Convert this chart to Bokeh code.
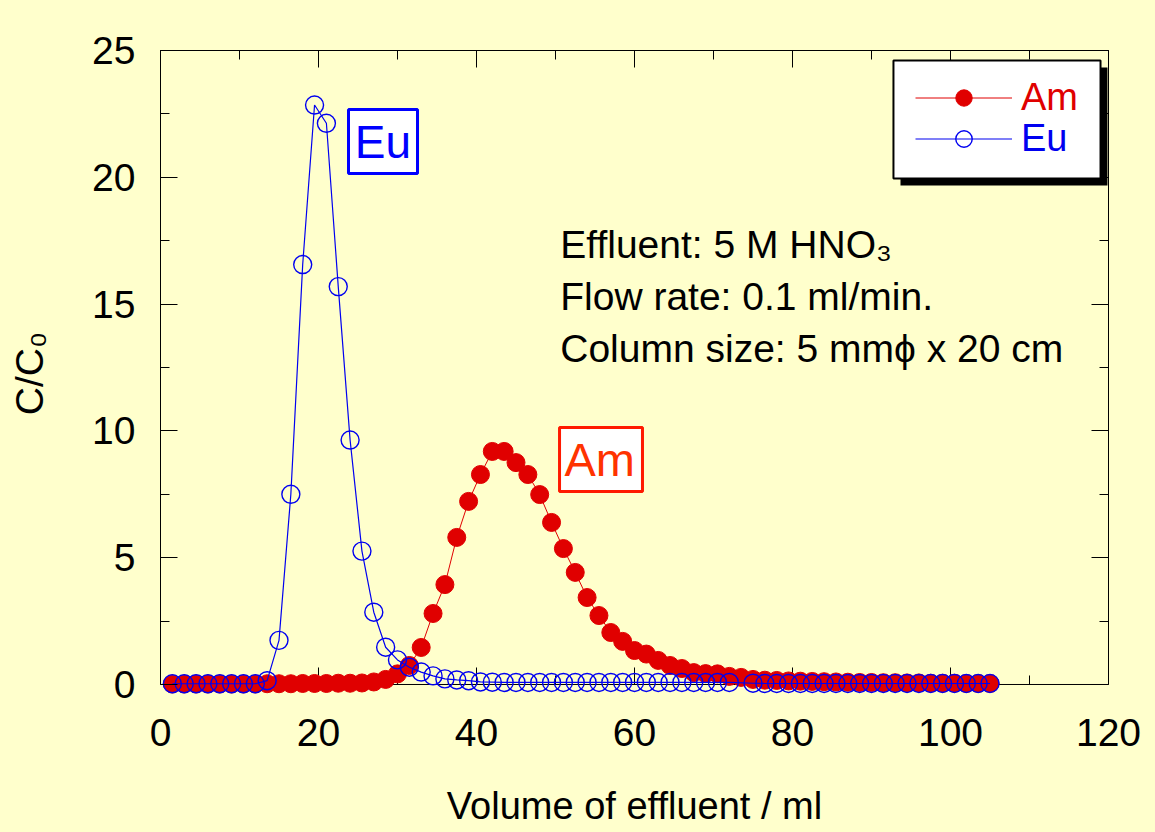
from bokeh.plotting import figure
from bokeh.models import (Range1d, LinearAxis, SingleIntervalTicker, BoxAnnotation,
                          Label, Legend, LegendItem, Span)
from bokeh.embed import file_html
from bokeh.resources import INLINE

# ---------------- data ----------------
volume_am = [1.5, 3.0, 4.5, 6.0, 7.5, 9.0, 10.5, 12.0, 13.5, 15.0,
             16.5, 18.0, 19.5, 21.0, 22.5, 24.0, 25.5, 27.0, 28.5, 30.0,
             31.5, 33.0, 34.5, 36.0, 37.5, 39.0, 40.5, 42.0, 43.5, 45.0,
             46.5, 48.0, 49.5, 51.0, 52.5, 54.0, 55.5, 57.0, 58.5, 60.0,
             61.5, 63.0, 64.5, 66.0, 67.5, 69.0, 70.5, 72.0, 73.5, 75.0,
             76.5, 78.0, 79.5, 81.0, 82.5, 84.0, 85.5, 87.0, 88.5, 90.0,
             91.5, 93.0, 94.5, 96.0, 97.5, 99.0, 100.5, 102.0, 103.5, 105.0]
cc0_am = [0.02, 0.02, 0.02, 0.02, 0.02, 0.02, 0.02, 0.02, 0.03, 0.03,
          0.03, 0.04, 0.04, 0.04, 0.05, 0.05, 0.06, 0.10, 0.20, 0.42,
          0.75, 1.46, 2.80, 3.94, 5.80, 7.22, 8.28, 9.19, 9.19, 8.75,
          8.28, 7.49, 6.39, 5.36, 4.42, 3.43, 2.72, 2.05, 1.70, 1.34,
          1.20, 0.95, 0.75, 0.63, 0.47, 0.43, 0.42, 0.32, 0.28, 0.20,
          0.17, 0.16, 0.14, 0.13, 0.12, 0.11, 0.10, 0.09, 0.08, 0.08,
          0.07, 0.07, 0.06, 0.06, 0.05, 0.05, 0.05, 0.04, 0.04, 0.04]

volume_eu = [1.5, 3.0, 4.5, 6.0, 7.5, 9.0, 10.5, 12.0, 13.5, 15.0,
             16.5, 18.0, 19.5, 21.0, 22.5, 24.0, 25.5, 27.0, 28.5, 30.0,
             31.5, 33.0, 34.5, 36.0, 37.5, 39.0, 40.5, 42.0, 43.5, 45.0,
             46.5, 48.0, 49.5, 51.0, 52.5, 54.0, 55.5, 57.0, 58.5, 60.0,
             61.5, 63.0, 64.5, 66.0, 67.5, 69.0, 70.5, 72.0, 75.0,
             76.5, 78.0, 79.5, 81.0, 82.5, 84.0, 85.5, 87.0, 88.5, 90.0,
             91.5, 93.0, 94.5, 96.0, 97.5, 99.0, 100.5, 102.0, 103.5, 105.0]
cc0_eu = [0.03, 0.03, 0.03, 0.03, 0.03, 0.03, 0.03, 0.03, 0.15, 1.74,
          7.50, 16.56, 22.85, 22.13, 15.69, 9.64, 5.26, 2.85, 1.47, 0.97,
          0.68, 0.49, 0.34, 0.22, 0.18, 0.15, 0.10, 0.09, 0.08, 0.08,
          0.08, 0.08, 0.08, 0.08, 0.08, 0.08, 0.08, 0.08, 0.08, 0.08,
          0.08, 0.08, 0.08, 0.08, 0.08, 0.08, 0.08, 0.08, 0.05,
          0.04, 0.04, 0.04, 0.04, 0.04, 0.04, 0.04, 0.04, 0.04, 0.04,
          0.04, 0.04, 0.04, 0.04, 0.04, 0.04, 0.04, 0.04, 0.04, 0.04]

x_major_ticks = [0, 20, 40, 60, 80, 100, 120]
x_minor_ticks = [10, 30, 50, 70, 90, 110]
x_label = "Volume of effluent / ml"
y_label = "C/C\u2080"
note_lines = ["Effluent: 5 M HNO\u2083", "Flow rate: 0.1 ml/min.",
              "Column size: 5 mm\u03d5 x 20 cm"]

# ---------------- style ----------------
BG = "#FFFFCC"
FONT = "Liberation Sans"
RED = "#E00000"
BLUE = "#0000F0"
Y_LOW = -0.4732          # a little room below zero so baseline markers are not clipped
FRAME_H = 646
PX_PER_Y = FRAME_H / (25 - Y_LOW)

p = figure(frame_width=948, frame_height=FRAME_H,
           x_range=Range1d(0, 120), y_range=Range1d(Y_LOW, 25),
           x_axis_location=None, y_axis_location=None,
           min_border_left=160, min_border_right=42,
           min_border_top=50, min_border_bottom=132,
           output_backend="svg", toolbar_location=None)
p.background_fill_color = BG
p.border_fill_color = BG
p.outline_line_color = None
p.xgrid.visible = False
p.ygrid.visible = False


def style_axis(ax, labels=True):
    ax.axis_line_color = "black"
    ax.axis_line_width = 1
    ax.major_tick_in = 17
    ax.major_tick_out = 0
    ax.minor_tick_in = 9
    ax.minor_tick_out = 0
    ax.major_tick_line_color = "black"
    ax.minor_tick_line_color = "black"
    if labels:
        ax.major_label_text_font = FONT
        ax.major_label_text_font_size = "39px"
        ax.major_label_text_color = "black"
        ax.major_label_standoff = 25
        ax.axis_label_text_font = FONT
        ax.axis_label_text_font_style = "normal"
        ax.axis_label_text_color = "black"
    else:
        ax.major_label_text_font_size = "10px"
        ax.major_label_text_color = None
        ax.major_label_text_alpha = 0
        ax.major_label_standoff = 0


# bottom axis: only labels (its line and ticks are drawn at y = 0 below)
bottom = LinearAxis(ticker=SingleIntervalTicker(interval=20, num_minor_ticks=2),
                    axis_label=x_label)
style_axis(bottom)
bottom.axis_line_color = None
bottom.major_tick_line_color = None
bottom.minor_tick_line_color = None
bottom.major_label_standoff = 34 - round(-Y_LOW * PX_PER_Y)
bottom.axis_label_text_font_size = "38px"
bottom.axis_label_standoff = 36
p.add_layout(bottom, "below")

left = LinearAxis(ticker=SingleIntervalTicker(interval=5, num_minor_ticks=2),
                  bounds=(0, 25), axis_label=y_label)
style_axis(left)
left.axis_label_text_font_size = "39px"
left.axis_label_standoff = 38
p.add_layout(left, "left")

top = LinearAxis(ticker=SingleIntervalTicker(interval=20, num_minor_ticks=2))
style_axis(top, labels=False)
p.add_layout(top, "above")

right = LinearAxis(ticker=SingleIntervalTicker(interval=5, num_minor_ticks=2),
                   bounds=(0, 25))
style_axis(right, labels=False)
p.add_layout(right, "right")

# x axis line and inward ticks at y = 0
p.add_layout(Span(location=0, dimension="width", line_color="black",
                  line_width=1, level="underlay"))
p.segment(x0=x_major_ticks, y0=[0] * len(x_major_ticks), x1=x_major_ticks,
          y1=[17 / PX_PER_Y] * len(x_major_ticks), line_color="black",
          line_width=1, level="underlay")
p.segment(x0=x_minor_ticks, y0=[0] * len(x_minor_ticks), x1=x_minor_ticks,
          y1=[9 / PX_PER_Y] * len(x_minor_ticks), line_color="black",
          line_width=1, level="underlay")

# ---------------- data glyphs ----------------
am_line = p.line(volume_am, cc0_am, line_color=RED, line_width=1)
am_pts = p.scatter(volume_am, cc0_am, marker="circle", size=18,
                   fill_color=RED, line_color=RED, line_width=1)
eu_line = p.line(volume_eu, cc0_eu, line_color=BLUE, line_width=1.2)
eu_pts = p.scatter(volume_eu, cc0_eu, marker="circle", size=18,
                   fill_color=None, line_color=BLUE, line_width=1.4)

# ---------------- labels in boxes ----------------
p.add_layout(BoxAnnotation(left=23.8, right=32.53, bottom=20.15, top=22.67,
                           fill_color="white", fill_alpha=1,
                           line_color="#0000FF", line_alpha=1, line_width=3))
p.add_layout(Label(x=28.16, y=21.41, text="Eu", text_align="center",
                   text_baseline="middle", text_font=FONT,
                   text_font_size="46px", text_color="#0000FF"))

p.add_layout(BoxAnnotation(left=50.51, right=61.01, bottom=7.61, top=10.13,
                           fill_color="white", fill_alpha=1,
                           line_color="#FF1A00", line_alpha=1, line_width=3))
p.add_layout(Label(x=55.6, y=8.87, text="Am", text_align="center",
                   text_baseline="middle", text_font=FONT,
                   text_font_size="47px", text_color="#FF3300"))

# ---------------- conditions text ----------------
for txt, yy in zip(note_lines, [17.35, 15.30, 13.25]):
    p.add_layout(Label(x=50.6, y=yy, text=txt, text_align="left",
                       text_baseline="middle", text_font=FONT,
                       text_font_size="39px", text_color="black"))

# ---------------- legend box with shadow ----------------
p.add_layout(BoxAnnotation(left=93.67, right=119.87, bottom=19.68, top=24.33,
                           fill_color="black", fill_alpha=1, line_color=None))
p.add_layout(BoxAnnotation(left=92.78, right=118.99, bottom=19.95, top=24.61,
                           fill_color="white", fill_alpha=1,
                           line_color="black", line_alpha=1, line_width=2))


def make_legend(item, color, loc):
    return Legend(items=[item], location=loc, padding=0, margin=0, spacing=0,
                  glyph_width=97, glyph_height=41, label_height=41,
                  label_standoff=9, label_text_font=FONT,
                  label_text_font_size="38px", label_text_color=color,
                  background_fill_alpha=0, border_line_alpha=0)


p.add_layout(make_legend(LegendItem(label="Am", renderers=[am_line, am_pts]),
                         RED, (755, 577.5)), "center")
p.add_layout(make_legend(LegendItem(label="Eu", renderers=[eu_line, eu_pts]),
                         BLUE, (755, 536.5)), "center")

html = file_html(p, INLINE)
html = html.replace("</head>",
                    "<style>html,body{margin:0;padding:0;background-color:#FFFFCC;}</style></head>", 1)
open("out.html", "w").write(html)
